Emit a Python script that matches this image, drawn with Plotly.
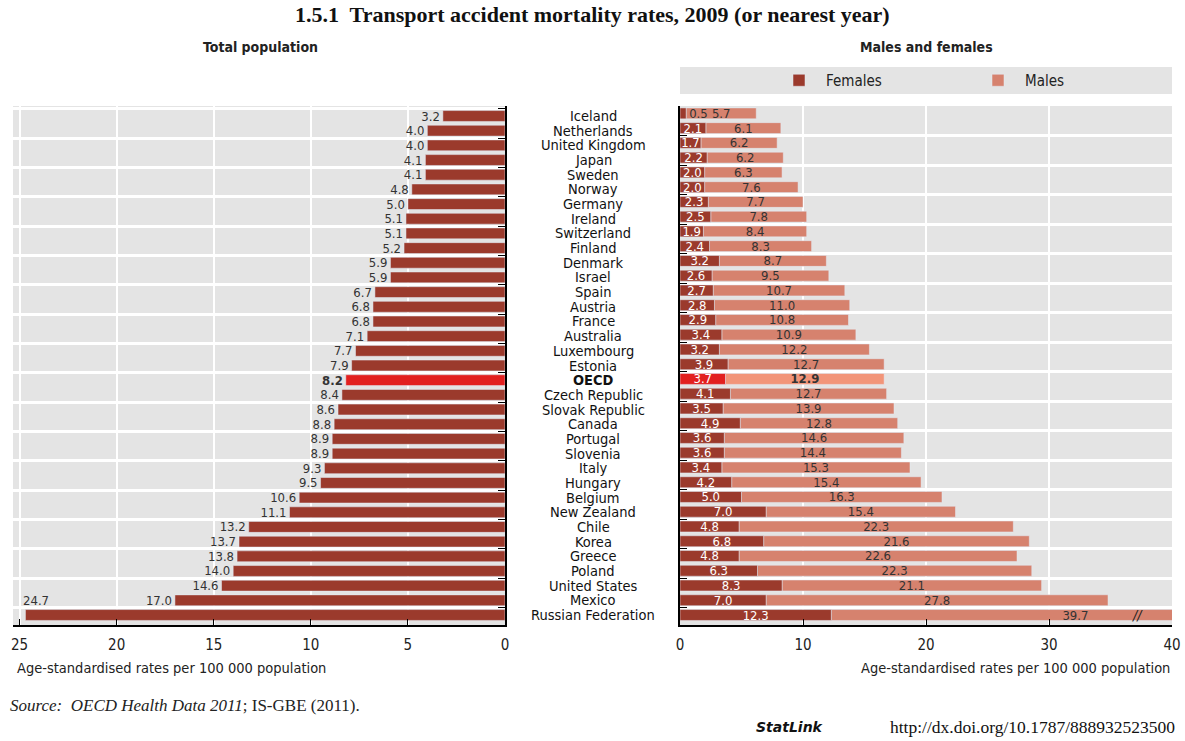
import plotly.graph_objects as go

countries = ["Iceland", "Netherlands", "United Kingdom", "Japan", "Sweden", "Norway", "Germany",
             "Ireland", "Switzerland", "Finland", "Denmark", "Israel", "Spain", "Austria", "France",
             "Australia", "Luxembourg", "Estonia", "OECD", "Czech Republic", "Slovak Republic",
             "Canada", "Portugal", "Slovenia", "Italy", "Hungary", "Belgium", "New Zealand", "Chile",
             "Korea", "Greece", "Poland", "United States", "Mexico", "Russian Federation"]
total = [3.2, 4.0, 4.0, 4.1, 4.1, 4.8, 5.0, 5.1, 5.1, 5.2, 5.9, 5.9, 6.7, 6.8, 6.8, 7.1, 7.7, 7.9,
         8.2, 8.4, 8.6, 8.8, 8.9, 8.9, 9.3, 9.5, 10.6, 11.1, 13.2, 13.7, 13.8, 14.0, 14.6, 17.0, 24.7]
females = [0.5, 2.1, 1.7, 2.2, 2.0, 2.0, 2.3, 2.5, 1.9, 2.4, 3.2, 2.6, 2.7, 2.8, 2.9, 3.4, 3.2, 3.9,
           3.7, 4.1, 3.5, 4.9, 3.6, 3.6, 3.4, 4.2, 5.0, 7.0, 4.8, 6.8, 4.8, 6.3, 8.3, 7.0, 12.3]
males = [5.7, 6.1, 6.2, 6.2, 6.3, 7.6, 7.7, 7.8, 8.4, 8.3, 8.7, 9.5, 10.7, 11.0, 10.8, 10.9, 12.2, 12.7,
         12.9, 12.7, 13.9, 12.8, 14.6, 14.4, 15.3, 15.4, 16.3, 15.4, 22.3, 21.6, 22.6, 22.3, 21.1, 27.8, 39.7]
left_ticks = [0, 5, 10, 15, 20, 25]
right_ticks = [0, 10, 20, 30, 40]
highlight = "OECD"
clipped = "Russian Federation"

NARROW = "Liberation Sans Narrow, Arial Narrow, DejaVu Sans Condensed, sans-serif"
SERIF = "Liberation Serif, DejaVu Serif, serif"
DARK = "#9b3a2c"
SALMON = "#d6826e"
RED = "#e2201f"
SALMON_HI = "#f29579"
TXT = "#333333"
GRAY = "#e4e4e4"

W, H = 1185, 741
def px(x):
    return x / W
def py(y):
    return 1 - y / H

left_colors = [RED if c == highlight else DARK for c in countries]
left_text = []
for c, v in zip(countries, total):
    if c == clipped:
        left_text.append("")
    elif c == highlight:
        left_text.append(f"<b>{v:.1f}</b>")
    else:
        left_text.append(f"{v:.1f}")

fem_colors = [RED if c == highlight else DARK for c in countries]
male_colors = [SALMON_HI if c == highlight else SALMON for c in countries]
fem_text = [f"{v:.1f}" for v in females]
# values too small for their bar are written just after the bar end, in dark text
fem_pos = ["outside" if v < 1 else "inside" for v in females]
male_text = [f"<b>{v:.1f}</b>" if c == highlight else f"{v:.1f}" for c, v in zip(countries, males)]

fig = go.Figure()
fig.add_trace(go.Bar(
    x=total, y=countries, orientation="h", marker_color=left_colors, width=0.74,
    text=left_text, textposition="outside", constraintext="none",
    textfont=dict(family=NARROW, size=13, color=TXT),
    cliponaxis=False, showlegend=False, xaxis="x", yaxis="y", hoverinfo="x+y"))
# males stacked on top of females (explicit base), drawn first so female labels sit above
fig.add_trace(go.Bar(
    x=males, base=females, y=countries, orientation="h", marker_color=male_colors, width=0.74,
    name="Males", text=male_text, textposition="inside", insidetextanchor="middle",
    constraintext="none", textfont=dict(family=NARROW, size=13, color=TXT),
    xaxis="x2", yaxis="y2", legendrank=2))
fig.add_trace(go.Bar(
    x=females, y=countries, orientation="h", marker_color=fem_colors, width=0.74, name="Females",
    text=fem_text, textposition=fem_pos, insidetextanchor="middle", constraintext="none",
    insidetextfont=dict(family=NARROW, size=13, color="white"),
    outsidetextfont=dict(family=NARROW, size=13, color=TXT),
    textfont=dict(family=NARROW, size=13),
    xaxis="x2", yaxis="y2", legendrank=1))

axis_common = dict(showgrid=True, gridcolor="white", gridwidth=2, showline=True, linecolor="black",
                   linewidth=2, ticks="inside", ticklen=6, tickcolor="black", zeroline=False,
                   tickfont=dict(family=NARROW, size=15, color="#222"), ticklabelstandoff=5)
fig.update_layout(
    width=W, height=H, margin=dict(l=0, r=0, t=0, b=0, autoexpand=False),
    paper_bgcolor="white", plot_bgcolor=GRAY, barmode="overlay",
    xaxis=dict(domain=[px(13), px(505)], range=[25.34, 0], tickvals=left_ticks,
               anchor="y", **axis_common),
    yaxis=dict(domain=[py(625), py(106)], autorange="reversed", side="right", anchor="x",
               tickson="boundaries", showticklabels=False, ticks="inside", ticklen=7,
               tickcolor="black", showline=True, linecolor="black", linewidth=2,
               showgrid=True, gridcolor="white", gridwidth=2.5, zeroline=False),
    xaxis2=dict(domain=[px(680), px(1172)], range=[0, 40], tickvals=right_ticks,
                anchor="y2", **axis_common),
    yaxis2=dict(domain=[py(625), py(106)], autorange="reversed", side="left", anchor="x2",
                tickson="boundaries", showticklabels=False, ticks="inside", ticklen=7,
                tickcolor="black", showline=True, linecolor="black", linewidth=2,
                showgrid=True, gridcolor="white", gridwidth=2.5, zeroline=False),
    legend=dict(orientation="h", x=px(772), xanchor="left", y=py(80.5), yanchor="middle",
                bgcolor="rgba(0,0,0,0)", font=dict(family=NARROW, size=15, color="#222"),
                itemwidth=44, entrywidth=140, entrywidthmode="pixels"),
    shapes=[dict(type="rect", xref="paper", yref="paper", x0=px(680), x1=px(1172),
                 y0=py(94), y1=py(67), fillcolor=GRAY, line=dict(width=0), layer="below")],
)

def note(text, x, y, size, family=NARROW, xanchor="center", color="#222"):
    return dict(text=text, x=px(x), y=py(y), xref="paper", yref="paper", showarrow=False,
                xanchor=xanchor, yanchor="middle", font=dict(family=family, size=size, color=color))

ann = []
ann.append(note("<b>1.5.1  Transport accident mortality rates, 2009 (or nearest year)</b>",
                592, 15, 22, family=SERIF, color="#111"))
ann.append(note("<b>Total population</b>", 260, 47, 14))
ann.append(note("<b>Males and females</b>", 926, 47, 14))
for c in countries:
    ann.append(dict(text=f"<b>{c}</b>" if c == highlight else c, x=px(593), y=c, xref="paper",
                    yref="y", showarrow=False, xanchor="center", yanchor="middle",
                    font=dict(family=NARROW, size=14.5, color="#111")))
# label for the largest total bar, which has no room at its end
ci = countries.index(clipped)
ann.append(dict(text=f"{total[ci]:.1f}", x=total[ci], y=countries[ci - 1], xref="x", yref="y",
                xanchor="left", yanchor="middle", showarrow=False, xshift=-4,
                font=dict(family=NARROW, size=13, color=TXT)))
# axis break marker on the clipped stacked bar
ann.append(dict(text="<i>//</i>", x=37.2, y=clipped, xref="x2", yref="y2", showarrow=False,
                xanchor="center", yanchor="middle",
                font=dict(family=NARROW, size=14, color="#222")))
ann.append(note("Age-standardised rates per 100 000 population", 15, 668, 14.5, xanchor="left"))
ann.append(note("Age-standardised rates per 100 000 population", 1172, 668, 14.5, xanchor="right"))
ann.append(note("<i>Source:  OECD Health Data 2011</i>; IS-GBE (2011).", 8, 705, 17,
                family=SERIF, xanchor="left"))
ann.append(note("<b><i>StatLink</i></b>", 826, 727, 14, family="DejaVu Sans, sans-serif",
                xanchor="right", color="#111"))
ann.append(note("http://dx.doi.org/10.1787/888932523500", 1177, 727, 17.5, family=SERIF,
                xanchor="right", color="#111"))
fig.update_layout(annotations=ann)

fig.write_html("out.html", config={"displayModeBar": False},
               post_script="document.body.style.margin='0px';document.body.style.overflow='hidden';")
